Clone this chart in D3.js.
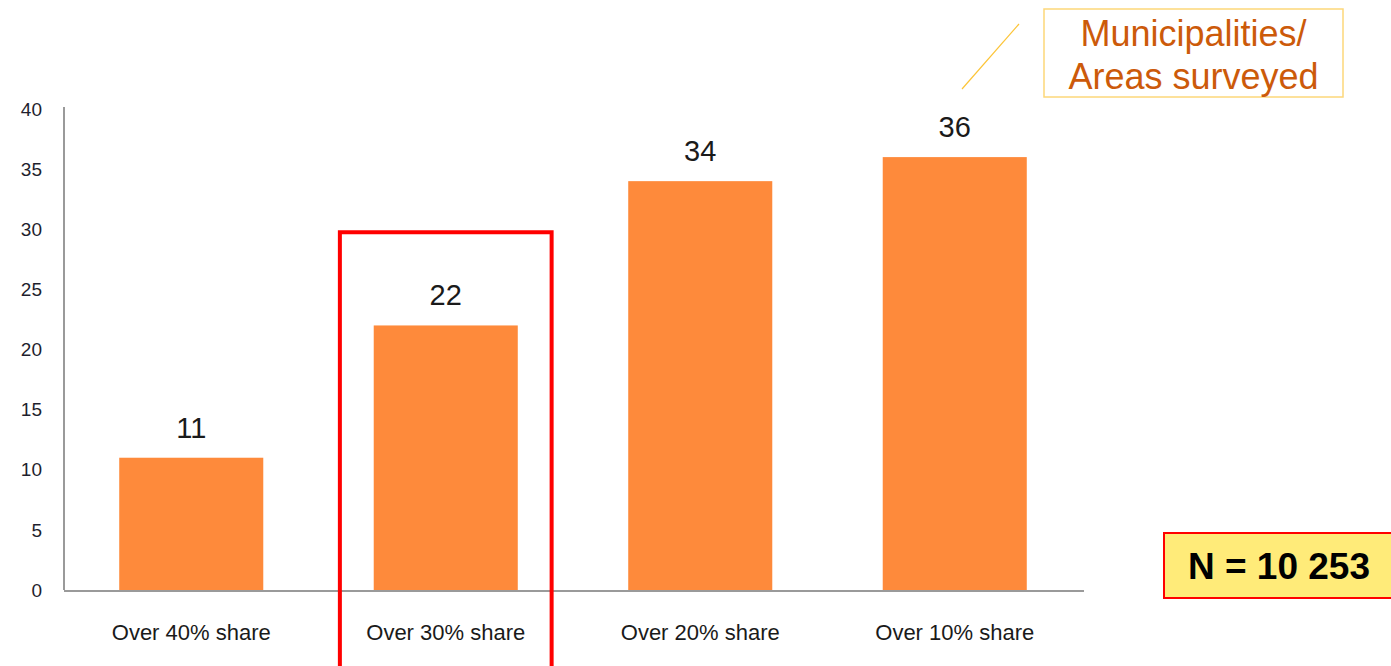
<!DOCTYPE html>
<html>
<head>
<meta charset="utf-8">
<script src="https://cdn.jsdelivr.net/npm/d3@7"></script>
<style>
  html, body { margin: 0; padding: 0; background: #fff; }
  svg { display: block; }
</style>
</head>
<body>
<svg id="chart" width="1391" height="666"></svg>
<script>
(function(){
    // data
    const categories = ["Over 40% share", "Over 30% share", "Over 20% share", "Over 10% share"];
    const values = [11, 22, 34, 36];
    const yTicks = [0, 5, 10, 15, 20, 25, 30, 35, 40];
    const highlighted = "Over 30% share";
    const calloutLines = ["Municipalities/", "Areas surveyed"];
    const nLabel = "N = 10 253";

    const svg = d3.select("#chart");
    const font = "'Liberation Sans', Arial, sans-serif";

    const m = { top: 109, left: 64, right: 309, bottom: 76 };
    const W = 1391, H = 666;
    const innerW = W - m.left - m.right;
    const innerH = H - m.top - m.bottom;

    const x = d3.scaleBand().domain(categories).range([0, innerW]).paddingInner(0.434).paddingOuter(0.217);
    const y = d3.scaleLinear().domain([0, 40]).range([innerH, 0]);

    const g = svg.append("g").attr("transform", `translate(${m.left},${m.top})`);

    // y axis: labels only + plain line
    g.append("line").attr("x1", 0).attr("x2", 0).attr("y1", y(40) - 2).attr("y2", y(0))
        .attr("stroke", "#9a9a9a").attr("stroke-width", 2);
    g.selectAll(".ytick").data(yTicks).enter().append("text")
        .attr("class", "ytick")
        .attr("x", -22).attr("y", d => y(d)).attr("dy", "0.35em")
        .attr("text-anchor", "end")
        .attr("font-family", font).attr("font-size", 19)
        .attr("fill", "#1f1f2e")
        .text(d => d);

    // bars
    g.selectAll(".bar").data(values).enter().append("rect")
        .attr("class", "bar")
        .attr("x", (d, i) => x(categories[i]))
        .attr("width", x.bandwidth())
        .attr("y", d => y(d))
        .attr("height", d => y(0) - y(d))
        .attr("fill", "#fe8a3b");

    // value labels
    g.selectAll(".val").data(values).enter().append("text")
        .attr("class", "val")
        .attr("x", (d, i) => x(categories[i]) + x.bandwidth() / 2)
        .attr("y", d => y(d) - 20)
        .attr("text-anchor", "middle")
        .attr("font-family", font).attr("font-size", 29)
        .attr("fill", "#1a1a1a")
        .text(d => d);

    // x axis line
    g.append("line").attr("x1", 0).attr("x2", innerW + 2).attr("y1", y(0) + 1).attr("y2", y(0) + 1)
        .attr("stroke", "#9a9a9a").attr("stroke-width", 2);

    // category labels
    g.selectAll(".cat").data(categories).enter().append("text")
        .attr("class", "cat")
        .attr("x", d => x(d) + x.bandwidth() / 2)
        .attr("y", innerH + 42)
        .attr("dy", "0.35em")
        .attr("text-anchor", "middle")
        .attr("font-family", font).attr("font-size", 22)
        .attr("fill", "#1a1a1a")
        .text(d => d);

    // red highlight frame round the chosen category
    const step = x.step();
    const hx = x(highlighted) + x.bandwidth() / 2;
    g.append("rect")
        .attr("x", hx - step * 0.416).attr("y", y(30) + 3)
        .attr("width", step * 0.832).attr("height", H - m.top - (y(30) + 3) + 10)
        .attr("fill", "none").attr("stroke", "#ff0000").attr("stroke-width", 4);

    // callout box top right
    const cb = svg.append("g").attr("transform", "translate(1044,9)");
    cb.append("rect").attr("width", 299).attr("height", 88)
        .attr("fill", "#fff").attr("stroke", "#fdd77a").attr("stroke-width", 1.5);
    cb.selectAll("text").data(calloutLines).enter().append("text")
        .attr("x", 149.5).attr("y", (d, i) => 24 + i * 43).attr("dy", "0.35em")
        .attr("text-anchor", "middle")
        .attr("font-family", font).attr("font-size", 36)
        .attr("fill", "#cc5a0a")
        .text(d => d);
    svg.append("line").attr("x1", 962).attr("y1", 89).attr("x2", 1019).attr("y2", 24)
        .attr("stroke", "#fcc437").attr("stroke-width", 1.2);

    // N box bottom right
    const nb = svg.append("g").attr("transform", "translate(1164,533)");
    nb.append("rect").attr("width", 230).attr("height", 65)
        .attr("fill", "#ffeb79").attr("stroke", "#ff0000").attr("stroke-width", 2);
    nb.append("text").attr("x", 115).attr("y", 33).attr("dy", "0.35em")
        .attr("text-anchor", "middle")
        .attr("font-family", font).attr("font-size", 37)
        .attr("font-weight", "bold").attr("fill", "#000")
        .text(nLabel);
})();
</script>
</body>
</html>
